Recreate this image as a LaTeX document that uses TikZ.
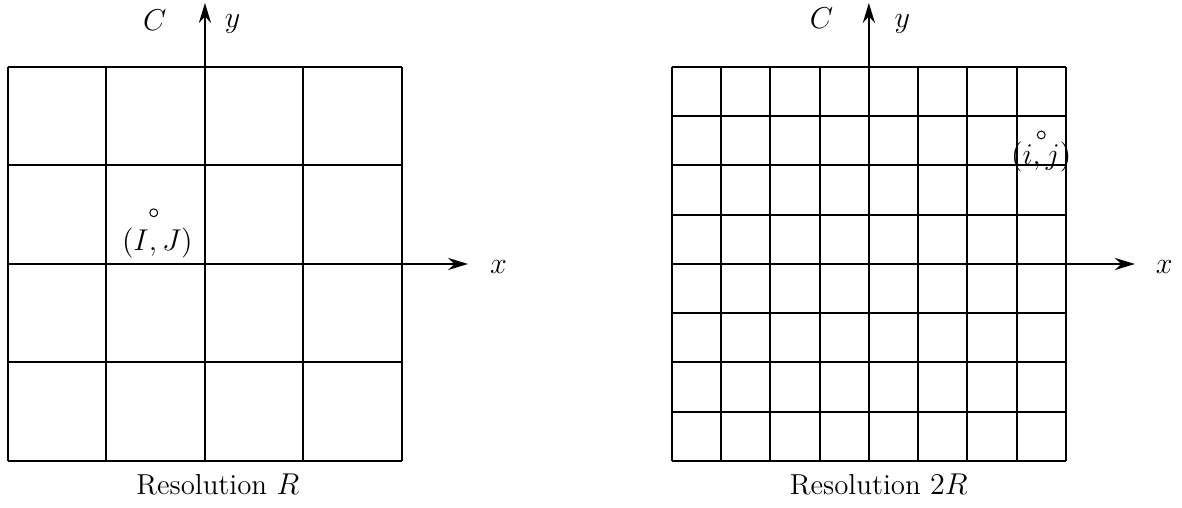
\documentclass[tikz,border=0pt]{standalone}
\usetikzlibrary{arrows.meta,positioning}
\begin{document}
\begin{tikzpicture}[x=1.379cm,y=1.379cm,every node/.style={font=\fontsize{11.5}{14}\selectfont},
    axis/.style={thick,-{Stealth[length=0.28cm,width=0.17cm]}},
    spot/.style={draw,circle,inner sep=0pt,minimum size=0.11cm}]
    \useasboundingbox (-2.081,-2.477) rectangle (9.919,2.680);
    % resolution R
    \draw[thick,step=1] (-2,-2) grid (2,2);
    \coordinate (lbot) at (0,-2);
    \coordinate (ltop) at (0,2.65);
    \coordinate (lleft) at (-2,0);
    \coordinate (lright) at (2.67,0);
    \draw[axis] (lbot) -- (ltop);
    \draw[axis] (lleft) -- (lright);
    \node (lC) at (-0.51,2.48) {$C$};
    \node (ly) at (0.28,2.44) {$y$};
    \node (lx) at (2.98,-0.03) {$x$};
    \node[spot] (IJ) at (-0.52,0.52) {};
    \node[below=0.03cm of IJ,xshift=0.05cm] (IJlab) {$(I,J)$};
    \node (lcap) at (0.13,-2.24) {Resolution $R$};
    % resolution 2R
    \begin{scope}[xshift=6.74*1.379cm]
    \draw[thick,step=0.5] (-2,-2) grid (2,2);
    \coordinate (rbot) at (0,-2);
    \coordinate (rtop) at (0,2.65);
    \coordinate (rleft) at (-2,0);
    \coordinate (rright) at (2.7,0);
    \draw[axis] (rbot) -- (rtop);
    \draw[axis] (rleft) -- (rright);
    \node (rC) at (-0.48,2.5) {$C$};
    \node (ry) at (0.34,2.44) {$y$};
    \node (rx) at (3.0,-0.03) {$x$};
    \node[spot] (ij) at (1.75,1.31) {};
    \node[below=0.0cm of ij,inner sep=1pt] (ijlab) {$(i,j)$};
    \node (rcap) at (0.1,-2.24) {Resolution $2R$};
    \end{scope}
\end{tikzpicture}
\end{document}
